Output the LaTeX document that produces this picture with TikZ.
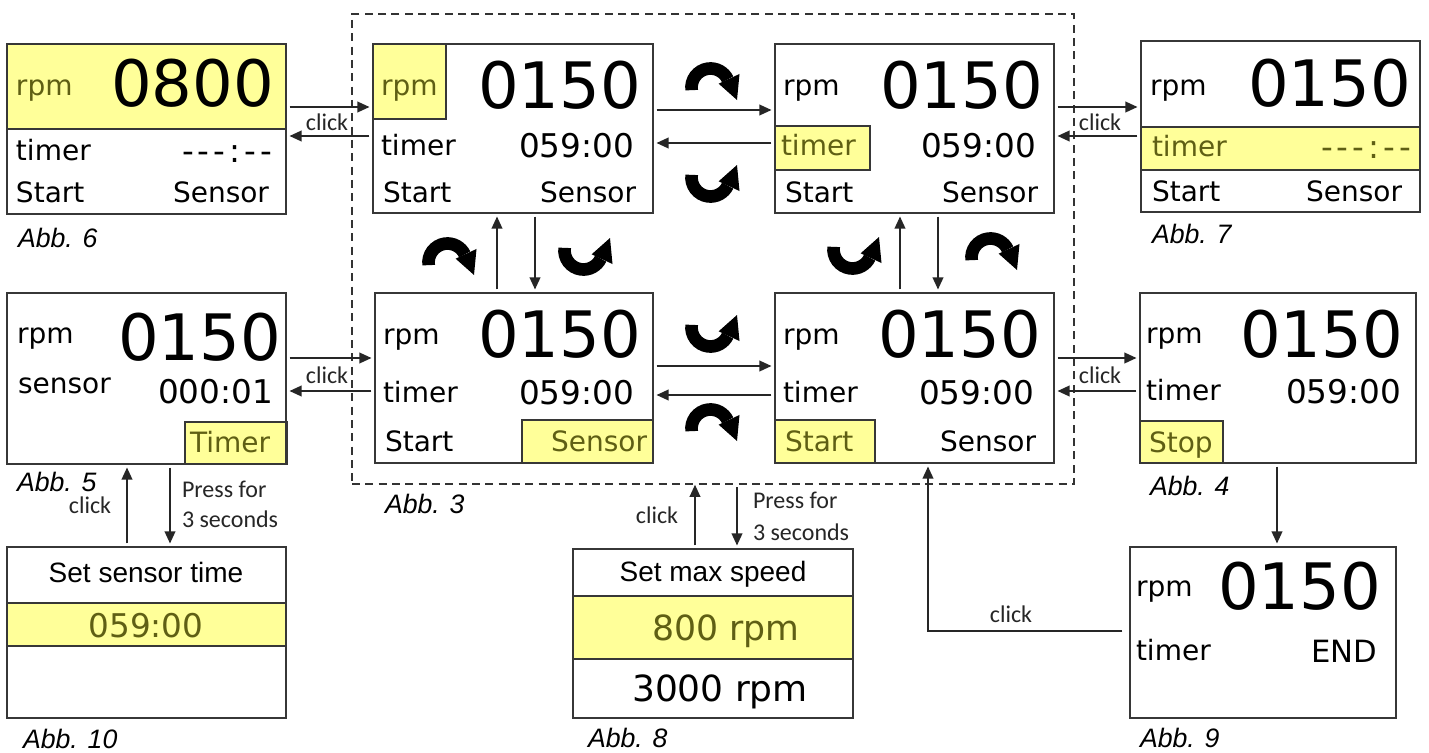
\documentclass[tikz,border=0pt]{standalone}
\usepackage{fontspec}
\setmainfont{DejaVu Sans}
\newfontfamily\calfont{Carlito}
\newfontfamily\arifont{Liberation Sans}
\usetikzlibrary{arrows.meta,calc}
\definecolor{hlyellow}{RGB}{255,255,153}
\definecolor{hltext}{RGB}{95,95,20}
\definecolor{boxline}{RGB}{55,55,55}
\newcommand\mkbox[6]{\node[#6, minimum width={(#4-#2)*0.75pt}, minimum height={(#5-#3)*0.75pt}] (#1) at ({(#2+#4)/2},{(#3+#5)/2}) {};}
\newcommand\dashtime{-\kern3pt-\kern3pt-\kern3pt:\kern3pt-\kern3pt-}
\begin{document}
\begin{tikzpicture}[x=0.75pt,y=-0.75pt,
  scr/.style={rectangle, draw=boxline, line width=1.3pt, inner sep=0pt},
  hl/.style={rectangle, fill=hlyellow, draw=boxline, line width=1.3pt, inner sep=0pt},
  dashbox/.style={rectangle, draw=black!80, line width=1.2pt, dash pattern=on 6pt off 4pt, inner sep=0pt},
  t/.style={inner sep=0pt, outer sep=0pt},
  big/.style={t, font=\fontsize{48pt}{52pt}\selectfont},
  lab/.style={t, font=\fontsize{21pt}{24pt}\selectfont},
  num/.style={t, font=\fontsize{24.5pt}{26pt}\selectfont},
  clk/.style={t, font=\calfont\fontsize{18pt}{20pt}\selectfont, text=black!85},
  abb/.style={t, font=\arifont\itshape\fontsize{20pt}{22pt}\selectfont},
  ttl/.style={t, font=\arifont\fontsize{21pt}{24pt}\selectfont},
  hlt/.style={text=hltext},
  arr/.style={draw=black!85, line width=1.1pt, -{Triangle[length=9pt,width=8pt]}, shorten <=2pt, shorten >=2pt},
  curv/.pic={
    \draw[line width=9.5pt, line cap=butt] (188:19) arc[start angle=188, end angle=25, radius=19];
    \fill (29.0,13.53) -- (8.16,3.80) -- (26.5,-12.5) -- cycle;
  }]
\fill[white] (0,0) rectangle (1429,753);
\useasboundingbox (0,0) rectangle (1429,753);

% dashed frame
\mkbox{frame}{352}{14}{1074}{484}{dashbox}

% highlights
\mkbox{h6}{7}{44}{286}{129}{hl}
\mkbox{hA}{373}{44}{446}{119}{hl}
\mkbox{hB}{775}{126}{870}{170}{hl}
\mkbox{h7}{1141}{127}{1420}{170}{hl}
\mkbox{h5}{185}{422}{287}{464}{hl}
\mkbox{hC}{522}{420}{653}{463}{hl}
\mkbox{hD}{775}{420}{875}{463}{hl}
\mkbox{h4}{1140}{421}{1223}{463}{hl}
\mkbox{h10}{7}{603}{286}{646}{hl}
\mkbox{h8}{573}{596}{853}{659}{hl}

% screens
\mkbox{a6}{7}{44}{286}{214}{scr}
\mkbox{A}{373}{44}{653}{213}{scr}
\mkbox{B}{775}{44}{1054}{213}{scr}
\mkbox{a7}{1141}{41}{1420}{212}{scr}
\mkbox{a5}{7}{293}{286}{464}{scr}
\mkbox{C}{375}{293}{653}{463}{scr}
\mkbox{D}{775}{293}{1054}{463}{scr}
\mkbox{a4}{1140}{293}{1416}{463}{scr}
\mkbox{a9}{1130}{547}{1396}{718}{scr}
\mkbox{a10}{7}{547}{286}{718}{scr}
\mkbox{a8}{573}{549}{853}{718}{scr}

% Abb 6
\node[lab,hlt,anchor=base west] (a6r) at (16,95) {rpm};
\node[big,anchor=base east] (a6n) at (274,106) {0800};
\node[lab,anchor=base west] (a6t) at (16,160) {timer};
\node[num,anchor=base east] (a6v) at (272,162) {\dashtime};
\node[lab,anchor=base west] (a6s) at (16,202) {Start};
\node[lab,anchor=base east] (a6e) at (269,202) {Sensor};

% A
\node[lab,hlt,anchor=base west] (Ar) at (381,95) {rpm};
\node[big,anchor=base east] (An) at (641,108) {0150};
\node[lab,anchor=base west] (At) at (381,155) {timer};
\node[num,anchor=base east] (Av) at (634,157) {059:00};
\node[lab,anchor=base west] (As) at (383,202) {Start};
\node[lab,anchor=base east] (Ae) at (636,202) {Sensor};

% B
\node[lab,anchor=base west] (Br) at (783,95) {rpm};
\node[big,anchor=base east] (Bn) at (1043,108) {0150};
\node[lab,hlt,anchor=base west] (Bt) at (781,155) {timer};
\node[num,anchor=base east] (Bv) at (1036,157) {059:00};
\node[lab,anchor=base west] (Bs) at (785,202) {Start};
\node[lab,anchor=base east] (Be) at (1038,202) {Sensor};

% Abb 7
\node[lab,anchor=base west] (a7r) at (1150,95) {rpm};
\node[big,anchor=base east] (a7n) at (1411,106) {0150};
\node[lab,hlt,anchor=base west] (a7t) at (1152,156) {timer};
\node[num,hlt,anchor=base east] (a7v) at (1411,158) {\dashtime};
\node[lab,anchor=base west] (a7s) at (1152,201) {Start};
\node[lab,anchor=base east] (a7e) at (1402,201) {Sensor};

% Abb 5
\node[lab,anchor=base west] (a5r) at (17,343) {rpm};
\node[big,anchor=base east] (a5n) at (281,360) {0150};
\node[lab,anchor=base west] (a5t) at (18,393) {sensor};
\node[num,anchor=base east] (a5v) at (273,403) {000:01};
\node[lab,hlt,anchor=base west] (a5b) at (190,452) {Timer};

% C
\node[lab,anchor=base west] (Cr) at (383,344) {rpm};
\node[big,anchor=base east] (Cn) at (641,357) {0150};
\node[lab,anchor=base west] (Ct) at (383,402) {timer};
\node[num,anchor=base east] (Cv) at (634,404) {059:00};
\node[lab,anchor=base west] (Cs) at (385,451) {Start};
\node[lab,hlt,anchor=base east] (Ce) at (647,451) {Sensor};

% D
\node[lab,anchor=base west] (Dr) at (783,344) {rpm};
\node[big,anchor=base east] (Dn) at (1041,357) {0150};
\node[lab,anchor=base west] (Dt) at (783,402) {timer};
\node[num,anchor=base east] (Dv) at (1034,404) {059:00};
\node[lab,hlt,anchor=base west] (Ds) at (785,451) {Start};
\node[lab,anchor=base east] (De) at (1036,451) {Sensor};

% Abb 4
\node[lab,anchor=base west] (a4r) at (1146,343) {rpm};
\node[big,anchor=base east] (a4n) at (1403,357) {0150};
\node[lab,anchor=base west] (a4t) at (1146,400) {timer};
\node[num,anchor=base east] (a4v) at (1401,403) {059:00};
\node[lab,hlt,anchor=base west] (a4s) at (1149,452) {Stop};

% Abb 9
\node[lab,anchor=base west] (a9r) at (1136,596) {rpm};
\node[big,anchor=base east] (a9n) at (1381,609) {0150};
\node[lab,anchor=base west] (a9t) at (1136,660) {timer};
\node[t,font=\fontsize{23pt}{25pt}\selectfont,anchor=base east] (a9v) at (1377,662) {END};

% Abb 10
\node[ttl,anchor=base] (a10t) at (146,582) {Set sensor time};
\node[num,hlt,anchor=base] (a10v) at (146,637) {059:00};

% Abb 8
\node[ttl,anchor=base] (a8t) at (713,581) {Set max speed};
\node[t,hlt,font=\fontsize{26pt}{28pt}\selectfont,anchor=base] (a8a) at (726,640) {800 rpm};
\node[t,font=\fontsize{27pt}{29pt}\selectfont,anchor=base] (a8b) at (720,701) {3000 rpm};

% figure labels
\node[abb,anchor=base west] (l6) at (18,247) {Abb. 6};
\node[abb,anchor=base west] (l3) at (385,513) {Abb. 3};
\node[abb,anchor=base west] (l7) at (1152,243) {Abb. 7};
\node[abb,anchor=base west] (l5) at (17,491) {Abb. 5};
\node[abb,anchor=base west] (l4) at (1150,495) {Abb. 4};
\node[abb,anchor=base west] (l10) at (23,748) {Abb. 10};
\node[abb,anchor=base west] (l8) at (588,747) {Abb. 8};
\node[abb,anchor=base west] (l9) at (1140,747) {Abb. 9};

% click labels
\node[clk,anchor=base] (c1) at (327,130) {click};
\node[clk,anchor=base] (c2) at (327,383) {click};
\node[clk,anchor=base] (c3) at (1100,130) {click};
\node[clk,anchor=base] (c4) at (1100,383) {click};
\node[clk,anchor=base] (c5) at (90,513) {click};
\node[clk,anchor=base] (c6) at (657,523) {click};
\node[clk,anchor=base] (c7) at (1011,622) {click};
\node[clk,anchor=base west] (p1) at (182,497) {Press for};
\node[clk,anchor=base west] (p2) at (182,527) {3 seconds};
\node[clk,anchor=base west] (p3) at (753,508) {Press for};
\node[clk,anchor=base west] (p4) at (753,540) {3 seconds};

% horizontal arrows
\draw[arr] (a6.east |- 0,107) -- (A.west |- 0,107);
\draw[arr] (A.west |- 0,136) -- (a6.east |- 0,136);
\draw[arr] (a5.east |- 0,358) -- (C.west |- 0,358);
\draw[arr] (C.west |- 0,391) -- (a5.east |- 0,391);
\draw[arr] (A.east |- 0,110) -- (B.west |- 0,110);
\draw[arr] (B.west |- 0,143) -- (A.east |- 0,143);
\draw[arr] (C.east |- 0,366) -- (D.west |- 0,366);
\draw[arr] (D.west |- 0,395) -- (C.east |- 0,395);
\draw[arr] (B.east |- 0,107) -- (a7.west |- 0,107);
\draw[arr] (a7.west |- 0,136) -- (B.east |- 0,136);
\draw[arr] (D.east |- 0,358) -- (a4.west |- 0,358);
\draw[arr] (a4.west |- 0,391) -- (D.east |- 0,391);

% vertical arrows
\draw[arr] (497,0 |- C.north) -- (497,0 |- A.south);
\draw[arr] (535,0 |- A.south) -- (535,0 |- C.north);
\draw[arr] (900,0 |- D.north) -- (900,0 |- B.south);
\draw[arr] (938,0 |- B.south) -- (938,0 |- D.north);
\draw[arr] (127,0 |- a10.north) -- (127,0 |- a5.south);
\draw[arr] (170,0 |- a5.south) -- (170,0 |- a10.north);
\draw[arr, shorten >=0pt] (695,0 |- a8.north) -- (695,0 |- frame.south);
\draw[arr] (737,0 |- frame.south) -- (737,0 |- a8.north);
\draw[arr] (1277,0 |- a4.south) -- (1277,0 |- a9.north);
\draw[arr, shorten <=5pt] (a9.west |- 0,631) -| (928,0 |- D.south);

% curved arrows
\pic[yscale=-1] at (710.5,87.5) {curv};
\pic at (710.5,177.5) {curv};
\pic[yscale=-1] at (447.5,262.5) {curv};
\pic at (583.5,250.5) {curv};
\pic at (852.5,249.5) {curv};
\pic[yscale=-1] at (990.5,257.5) {curv};
\pic at (710.5,327.5) {curv};
\pic[yscale=-1] at (710.5,428.5) {curv};
\end{tikzpicture}
\end{document}
